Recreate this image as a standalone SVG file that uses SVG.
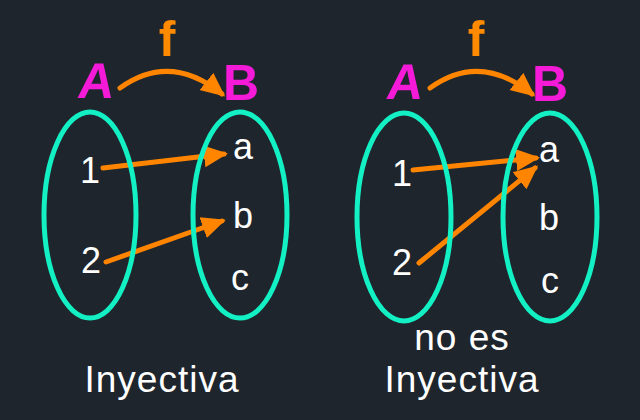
<svg xmlns="http://www.w3.org/2000/svg" width="640" height="420" viewBox="0 0 640 420">
<style>
.set{fill:none;stroke:#12f0c4;stroke-width:5}
.lbl{font-family:"Liberation Sans",Arial,sans-serif;fill:#ffffff;font-size:36px;text-anchor:middle}
.cap{font-family:"Liberation Sans",Arial,sans-serif;fill:#ffffff;font-size:37px;letter-spacing:1px;text-anchor:middle}
.big{font-family:"Liberation Sans",Arial,sans-serif;font-size:50px;font-weight:bold;text-anchor:middle}
.mag{fill:#f41ad8}
.f{fill:#ff8a00}
.arr{fill:none;stroke:#ff8400;stroke-width:5;stroke-linecap:round;marker-end:url(#ah)}
</style>
<defs>
<marker id="ah" markerUnits="userSpaceOnUse" markerWidth="26" markerHeight="24" refX="20" refY="11" orient="auto" viewBox="0 0 26 22">
<path d="M0,0 L24,11 L0,22 Z" fill="#ff8400"/>
</marker>
</defs>
<rect width="640" height="420" fill="#1e252c"/>
<g id="connectors">
<path class="arr" d="M120,88 Q170,52 222,94"/>
<line class="arr" x1="103" y1="168" x2="224" y2="154"/>
<line class="arr" x1="106" y1="262" x2="222" y2="221"/>
<path class="arr" d="M430,88 Q480,52 532,94"/>
<line class="arr" x1="413" y1="170" x2="536" y2="158"/>
<line class="arr" x1="419" y1="263" x2="535" y2="168"/>
</g>
<g id="left-f"><text class="big f" x="167" y="56">f</text></g>
<g id="left-A"><text class="big mag" x="95" y="98" transform="skewX(-8) translate(13,0)">A</text></g>
<g id="left-B"><text class="big mag" x="241" y="100">B</text></g>
<g id="left-setA">
<ellipse class="set" cx="90" cy="215" rx="46" ry="103"/>
<text class="lbl" x="90" y="183">1</text>
<text class="lbl" x="91" y="273">2</text>
</g>
<g id="left-setB">
<ellipse class="set" cx="240" cy="215" rx="47" ry="103"/>
<text class="lbl" x="243" y="159">a</text>
<text class="lbl" x="243" y="228">b</text>
<text class="lbl" x="240" y="290">c</text>
</g>
<g id="left-caption"><text class="cap" x="162" y="392">Inyectiva</text></g>
<g id="right-f"><text class="big f" x="476" y="56">f</text></g>
<g id="right-A"><text class="big mag" x="403" y="99" transform="skewX(-8) translate(14,0)">A</text></g>
<g id="right-B"><text class="big mag" x="550" y="101">B</text></g>
<g id="right-setA">
<ellipse class="set" cx="404" cy="217" rx="47" ry="104"/>
<text class="lbl" x="402" y="186">1</text>
<text class="lbl" x="402" y="275">2</text>
</g>
<g id="right-setB">
<ellipse class="set" cx="550" cy="217" rx="47" ry="104"/>
<text class="lbl" x="549" y="162">a</text>
<text class="lbl" x="549" y="230">b</text>
<text class="lbl" x="550" y="293">c</text>
</g>
<g id="right-caption">
<text class="cap" x="462" y="350">no es</text>
<text class="cap" x="462" y="392">Inyectiva</text>
</g>
</svg>
